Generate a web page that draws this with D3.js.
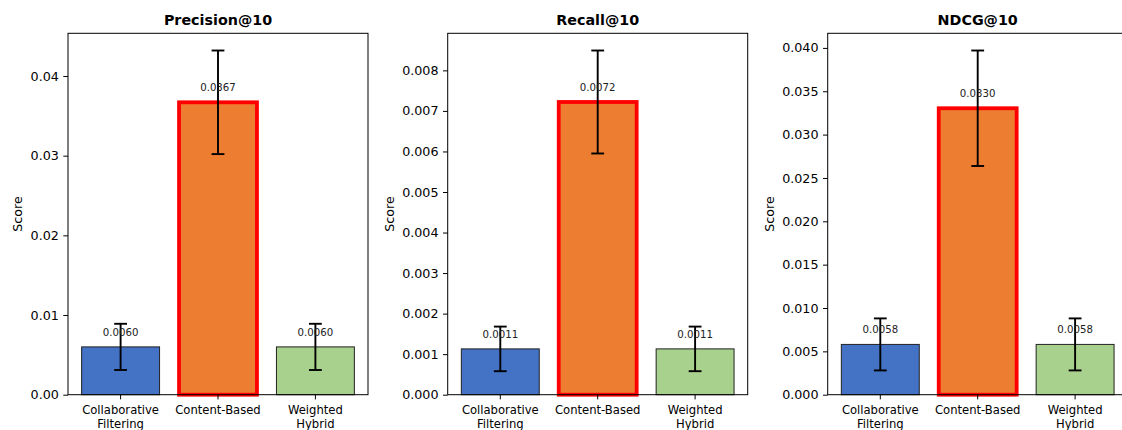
<!DOCTYPE html>
<html>
<head>
<meta charset="utf-8">
<script src="https://cdn.jsdelivr.net/npm/d3@7"></script>
<style>
  html, body { margin: 0; padding: 0; background: #fff; }
  svg { display: block; font-family: "DejaVu Sans", sans-serif; }
</style>
</head>
<body>
<svg id="chart" width="1122" height="430"></svg>
<script>
// ---- data ----
const categories = ["Collaborative Filtering", "Content-Based", "Weighted Hybrid"];
const categoryLabels = [["Collaborative", "Filtering"], ["Content-Based"], ["Weighted", "Hybrid"]];
const metricTitles = ["Precision@10", "Recall@10", "NDCG@10"];

const precisionValues = [0.0060, 0.0367, 0.0060];
const precisionErrors = [0.0029, 0.0065, 0.0029];
const recallValues = [0.00113, 0.00722, 0.00113];
const recallErrors = [0.00055, 0.00127, 0.00055];
const ndcgValues = [0.0058, 0.03304, 0.0058];
const ndcgErrors = [0.0030, 0.00666, 0.0030];

const precisionTicks = [0.00, 0.01, 0.02, 0.03, 0.04];
const recallTicks = [0.000, 0.001, 0.002, 0.003, 0.004, 0.005, 0.006, 0.007, 0.008];
const ndcgTicks = [0.000, 0.005, 0.010, 0.015, 0.020, 0.025, 0.030, 0.035, 0.040];
const tickDecimals = [2, 3, 3];

const barColors = ["#4472C4", "#ED7D31", "#A9D18E"];
const bestIndex = 1;

const panels = [
  { title: metricTitles[0], values: precisionValues, errors: precisionErrors, ticks: precisionTicks, dec: tickDecimals[0] },
  { title: metricTitles[1], values: recallValues, errors: recallErrors, ticks: recallTicks, dec: tickDecimals[1] },
  { title: metricTitles[2], values: ndcgValues, errors: ndcgErrors, ticks: ndcgTicks, dec: tickDecimals[2] }
];

// ---- layout ----
const svg = d3.select("#chart");
const panelLefts = [68, 447.7, 827.7];
const panelW = 300;
const plotTop = 33.3, plotBottom = 394.7;
const tickLen = 4.7;

panels.forEach((p, pi) => {
  const left = panelLefts[pi];
  const g = svg.append("g");

  const x = d3.scaleBand()
    .domain(categories)
    .range([left, left + panelW])
    .paddingInner(0.2)
    .paddingOuter(0.14);

  const ymax = d3.max(p.values.map((v, i) => v + p.errors[i])) * 1.05;
  const y = d3.scaleLinear().domain([0, ymax]).range([plotBottom, plotTop]);

  // bars
  p.values.forEach((v, i) => {
    const isBest = i === bestIndex;
    g.append("rect")
      .attr("x", x(categories[i]))
      .attr("y", y(v))
      .attr("width", x.bandwidth())
      .attr("height", y(0) - y(v))
      .attr("fill", barColors[i])
      .attr("stroke", isBest ? "#ff0000" : "#222")
      .attr("stroke-width", isBest ? 3.8 : 1);
  });

  // error bars
  p.values.forEach((v, i) => {
    const cx = x(categories[i]) + x.bandwidth() / 2;
    const e = p.errors[i];
    const eg = g.append("g").attr("stroke", "#000").attr("stroke-width", 1.9);
    eg.append("line").attr("x1", cx).attr("x2", cx).attr("y1", y(v - e)).attr("y2", y(v + e));
    eg.append("line").attr("x1", cx - 6.4).attr("x2", cx + 6.4).attr("y1", y(v - e)).attr("y2", y(v - e));
    eg.append("line").attr("x1", cx - 6.4).attr("x2", cx + 6.4).attr("y1", y(v + e)).attr("y2", y(v + e));
  });

  // value labels
  p.values.forEach((v, i) => {
    const cx = x(categories[i]) + x.bandwidth() / 2;
    g.append("text")
      .attr("x", cx)
      .attr("y", y(v) - 11)
      .attr("text-anchor", "middle")
      .attr("font-size", "10.2px")
      .attr("fill", "#222")
      .text(v.toFixed(4));
  });

  // frame (spines)
  g.append("rect")
    .attr("x", left).attr("y", plotTop)
    .attr("width", panelW).attr("height", plotBottom - plotTop)
    .attr("fill", "none").attr("stroke", "#000").attr("stroke-width", 1);

  // y axis
  const yAxis = d3.axisLeft(y)
    .tickValues(p.ticks)
    .tickFormat(d => d.toFixed(p.dec))
    .tickSize(tickLen)
    .tickPadding(4.5);
  const ya = g.append("g").attr("transform", `translate(${left},0)`).call(yAxis);
  ya.select(".domain").remove();
  ya.selectAll("text").attr("font-size", "12.7px").attr("fill", "#000").attr("font-family", "DejaVu Sans");
  ya.selectAll("line").attr("stroke", "#000");

  // x axis
  const xAxis = d3.axisBottom(x).tickSize(tickLen).tickFormat("");
  const xa = g.append("g").attr("transform", `translate(0,${plotBottom})`).call(xAxis);
  xa.select(".domain").remove();
  xa.selectAll("line").attr("stroke", "#000");
  categories.forEach((c, i) => {
    const cx = x(c) + x.bandwidth() / 2;
    const t = g.append("text")
      .attr("text-anchor", "middle")
      .attr("font-size", "11.6px")
      .attr("fill", "#000");
    categoryLabels[i].forEach((line, li) => {
      t.append("tspan").attr("x", cx).attr("y", 414 + li * 14.3).text(line);
    });
  });

  // y label
  let minX = Infinity;
  ya.selectAll("text").each(function () {
    const b = this.getBBox();
    const m = this.getCTM();
    minX = Math.min(minX, b.x + m.e);
  });
  const cy = (plotTop + plotBottom) / 2;
  g.append("text")
    .attr("transform", `translate(${minX - 13},${cy}) rotate(-90)`)
    .attr("text-anchor", "middle")
    .attr("dominant-baseline", "central")
    .attr("font-size", "12.7px")
    .attr("fill", "#000")
    .text("Score");

  // title
  g.append("text")
    .attr("x", left + panelW / 2)
    .attr("y", 25)
    .attr("text-anchor", "middle")
    .attr("font-size", "14.3px")
    .attr("font-weight", "bold")
    .attr("fill", "#000")
    .text(p.title);
});
</script>
</body>
</html>
